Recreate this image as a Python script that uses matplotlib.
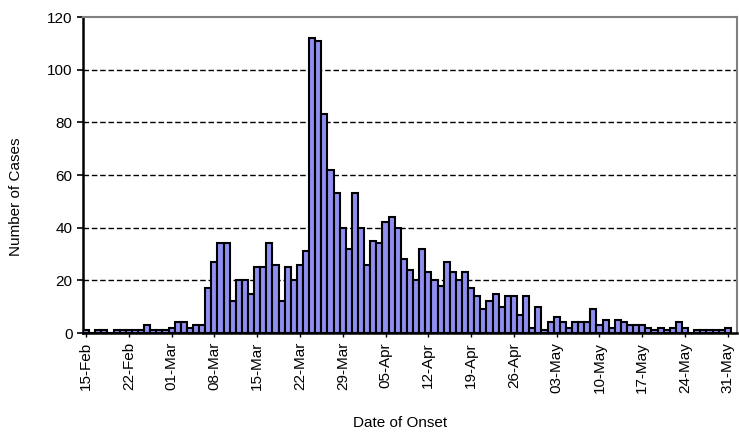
import matplotlib
matplotlib.use("Agg")
import matplotlib.pyplot as plt
import pandas as pd

plt.rcParams['font.family'] = ['Liberation Sans', 'DejaVu Sans']

# daily cases by date of onset, 15-Feb to 31-May
dates = pd.date_range("2003-02-15", "2003-05-31", freq="D")
cases = [1, 0, 1, 1, 0, 1, 1, 1, 1, 1, 3, 1, 1, 1,
         2, 4, 4, 2, 3, 3, 17, 27, 34, 34, 12, 20, 20, 15, 25, 25, 34,
         26, 12, 25, 20, 26, 31, 112, 111, 83, 62, 53, 40, 32, 53, 40,
         26, 35, 34, 42, 44, 40, 28, 24, 20, 32, 23, 20, 18, 27, 23, 20,
         23, 17, 14, 9, 12, 15, 10, 14, 14, 7, 14, 2, 10, 1, 4, 6, 4, 2,
         4, 4, 4, 9, 3, 5, 2, 5, 4, 3, 3, 3, 2, 1, 2, 1, 2, 4, 2, 0,
         1, 1, 1, 1, 1, 2]
tick_idx = list(range(0, len(dates), 7))
tick_labels = [dates[i].strftime("%d-%b") for i in tick_idx]
y_ticks = [0, 20, 40, 60, 80, 100, 120]

fig = plt.figure(figsize=(7.39, 4.34), dpi=100)
ax = fig.add_axes([0.1123, 0.2327, 0.8850, 0.7281])

x = list(range(len(cases)))
ax.bar(x, cases, width=1.0, color="#8f8ff2", edgecolor="black", linewidth=1.5, zorder=3)

ax.set_xlim(-0.5, len(cases) + 0.5)
ax.set_ylim(0, 120)
ax.set_yticks(y_ticks)
ax.set_xticks(tick_idx)
ax.set_xticklabels(tick_labels, rotation=90, fontsize=11)
ax.tick_params(axis="y", labelsize=11, direction="out", length=4, width=1.2)
ax.tick_params(axis="x", direction="out", length=3, width=1)

for yv in y_ticks[1:-1]:
    ax.axhline(yv, color="black", linestyle=(0, (4, 2)), linewidth=1, zorder=1)

ax.spines["left"].set_linewidth(1.8)
ax.spines["bottom"].set_linewidth(1.8)
ax.spines["top"].set_color("#808080")
ax.spines["right"].set_color("#808080")
ax.spines["top"].set_linewidth(1.5)
ax.spines["right"].set_linewidth(1.5)

ax.set_ylabel("Number of Cases", fontsize=11)
ax.set_xlabel("Date of Onset", fontsize=11)
ax.yaxis.set_label_coords(-0.092, 0.43)
ax.xaxis.set_label_coords(0.485, -0.262)

plt.savefig("out.png", dpi=100)
